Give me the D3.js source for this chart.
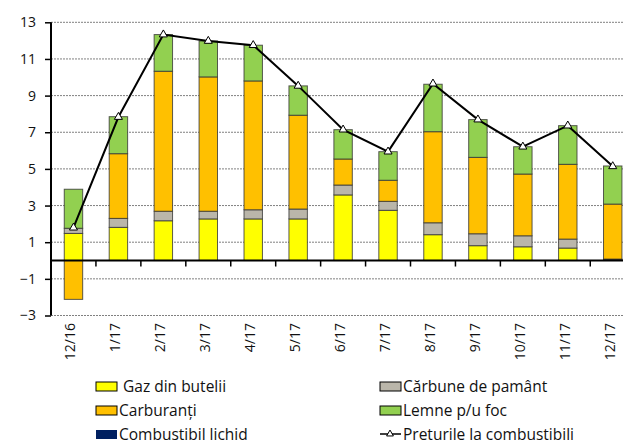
<!DOCTYPE html>
<html><head><meta charset="utf-8">
<script src="https://cdn.jsdelivr.net/npm/d3@7"></script>
<style>
body{margin:0;background:#fff;}
svg{display:block;font-family:"Open Sans",sans-serif;}
</style></head>
<body><svg id="c" width="623" height="443"></svg>
<script>
const categories = ["12/16","1/17","2/17","3/17","4/17","5/17","6/17","7/17","8/17","9/17","10/17","11/17","12/17"];
const gaz        = [1.48,1.81,2.17,2.27,2.27,2.27,3.58,2.74,1.41,0.81,0.75,0.68,0.05];
const carbune    = [0.28,0.49,0.52,0.42,0.50,0.54,0.54,0.49,0.65,0.65,0.60,0.49,0.03];
const carburanti = [-2.12,3.53,7.64,7.33,7.03,5.12,1.42,1.15,4.97,4.17,3.37,4.08,3.00];
const lemne      = [2.13,2.02,2.00,1.96,1.95,1.60,1.60,1.56,2.59,2.06,1.49,2.11,2.08];
const lichid     = [0,0,0,0,0,0,0,0,0,0,0,0,0];
const preturi    = [1.79,7.83,12.33,11.98,11.75,9.53,7.14,5.94,9.65,7.69,6.21,7.36,5.14];
const yTicks     = [13,11,9,7,5,3,1,-1,-3];

const series = [
  {name:" Gaz din butelii", values:gaz, color:"#FFFF00"},
  {name:"Cărbune de pamânt", values:carbune, color:"#BAB6AA"},
  {name:"Carburanți", values:carburanti, color:"#FFC000"},
  {name:"Lemne p/u foc", values:lemne, color:"#92D050"},
  {name:"Combustibil lichid", values:lichid, color:"#002060"}
];

const svg = d3.select("#c");
const x = d3.scaleBand().domain(categories).range([51,635.2]).paddingInner(0.59).paddingOuter(0.295);
const xb = d3.scaleBand().domain(categories).range([51,635.2]);
const y = d3.scaleLinear().domain([-3,13]).range([315.5,22.3]);

// grid
svg.append("g").selectAll("line").data(yTicks).join("line")
  .attr("x1",51).attr("x2",623).attr("y1",d=>y(d)).attr("y2",d=>y(d))
  .attr("stroke","#808080").attr("stroke-width",1).attr("stroke-dasharray","2,1");

// stacked bars (positive and negative separately)
const stackData = categories.map((c,i)=>{const o={cat:c}; series.forEach(s=>o[s.name]=s.values[i]); return o;});
const stack = d3.stack().keys(series.map(s=>s.name)).offset(d3.stackOffsetDiverging);
const layers = stack(stackData);
const gBars = svg.append("g");
layers.forEach((layer,li)=>{
  gBars.append("g").selectAll("rect").data(layer.filter(d=>d[1]-d[0]!==0)).join("rect")
    .attr("x",d=>x(d.data.cat))
    .attr("width",x.bandwidth())
    .attr("y",d=>y(Math.max(d[0],d[1])))
    .attr("height",d=>Math.abs(y(d[0])-y(d[1])))
    .attr("fill",series[li].color)
    .attr("stroke","#333").attr("stroke-width",1).attr("stroke-opacity",0.8);
});

// y axis
const yAxis = d3.axisLeft(y).tickValues(yTicks).tickSize(6).tickFormat(d3.format("d"));
const ga = svg.append("g").attr("transform","translate(51,0)").call(yAxis);
ga.select(".domain").attr("stroke","#000").attr("stroke-width",2).attr("d","M0,"+y(13)+"V"+y(-3));
ga.selectAll(".tick line").attr("stroke","#000").attr("stroke-width",1.5);
ga.selectAll(".tick text").attr("font-size",14).attr("fill","#111").attr("x",-15)
  .attr("font-family","Open Sans, sans-serif");

// zero line + category ticks
svg.append("line").attr("x1",51).attr("x2",623).attr("y1",y(0)).attr("y2",y(0))
  .attr("stroke","#000").attr("stroke-width",2);
svg.append("g").selectAll("line").data(categories.slice(1)).join("line")
  .attr("x1",d=>xb(d)).attr("x2",d=>xb(d)).attr("y1",y(0)).attr("y2",y(0)+6)
  .attr("stroke","#000").attr("stroke-width",1.5);

// x labels
svg.append("g").selectAll("text").data(categories).join("text")
  .attr("transform",d=>`translate(${xb(d)+xb.bandwidth()/2+2},323) rotate(-90)`)
  .attr("text-anchor","end").attr("font-size",14).attr("fill","#111").text(d=>d);

// line
const line = d3.line().x((d,i)=>xb(categories[i])+xb.bandwidth()/2).y(d=>y(d));
svg.append("path").datum(preturi).attr("d",line).attr("fill","none").attr("stroke","#000").attr("stroke-width",2);
const tri = d3.symbol().type(d3.symbolTriangle).size(28);
svg.append("g").selectAll("path").data(preturi).join("path")
  .attr("d",tri)
  .attr("transform",(d,i)=>`translate(${xb(categories[i])+xb.bandwidth()/2},${y(d)})`)
  .attr("fill","#fff").attr("stroke","#000").attr("stroke-width",1);

// legend
const legendItems = [
  {s:series[0], x:96, y:386},
  {s:series[1], x:380, y:386},
  {s:series[2], x:96, y:410},
  {s:series[3], x:380, y:410},
  {s:series[4], x:96, y:434}
];
const lg = svg.append("g");
legendItems.forEach(it=>{
  lg.append("rect").attr("x",it.x).attr("y",it.y-4).attr("width",21).attr("height",9)
    .attr("fill",it.s.color).attr("stroke",it.s.name==="Combustibil lichid"?"none":"#000").attr("stroke-width",1);
  lg.append("text").attr("x",it.x+23).attr("y",it.y+5.5).attr("font-size",15.5).attr("fill","#111")
    .attr("xml:space","preserve").style("white-space","pre").text(it.s.name);
});
// line legend
lg.append("line").attr("x1",380).attr("x2",401).attr("y1",434).attr("y2",434).attr("stroke","#000").attr("stroke-width",1.5);
lg.append("path").attr("d",d3.symbol().type(d3.symbolTriangle).size(20)).attr("transform","translate(390,434)")
  .attr("fill","#fff").attr("stroke","#000").attr("stroke-width",1);
lg.append("text").attr("x",403).attr("y",439.5).attr("font-size",15.5).attr("fill","#111").text("Preturile la combustibili");
</script></body></html>
